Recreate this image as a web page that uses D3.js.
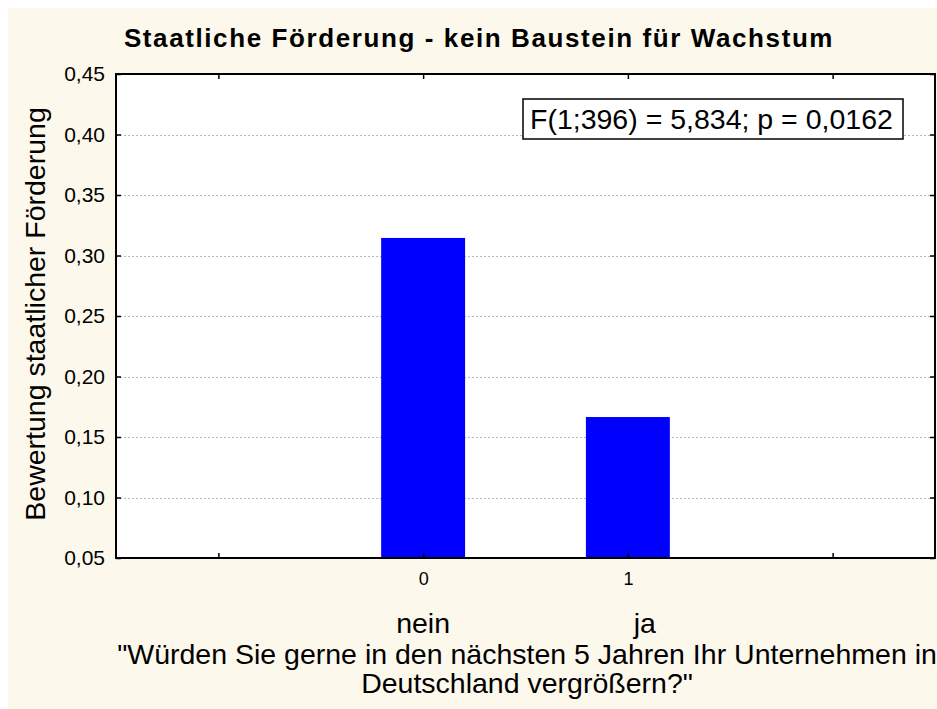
<!DOCTYPE html>
<html>
<head>
<meta charset="utf-8">
<script src="https://cdn.jsdelivr.net/npm/d3@7"></script>
<style>
  html, body { margin: 0; padding: 0; background: #ffffff; }
  svg { display: block; }
  text { font-family: "Liberation Sans", Arial, sans-serif; fill: #000; }
</style>
</head>
<body>
<svg id="chart" width="937" height="709"></svg>
<script>
// Group codes on the x axis and their answer labels
const groupCodes = [0, 1];
const groupNames = ["nein", "ja"];
// Mean rating of state funding per group
const meanRating = [0.3145, 0.1665];
// Axis ticks
const xTicks = [-1, 0, 1, 2];
const xTickLabels = ["", "0", "1", ""];
const yTicks = [0.05, 0.10, 0.15, 0.20, 0.25, 0.30, 0.35, 0.40, 0.45];
const yGridTicks = [0.10, 0.15, 0.20, 0.25, 0.30, 0.35, 0.40];

const titleText = "Staatliche Förderung - kein Baustein für Wachstum";
const yTitle = "Bewertung staatlicher Förderung";
const xTitleLines = ["\"Würden Sie gerne in den nächsten 5 Jahren Ihr Unternehmen in", "Deutschland vergrößern?\""];
const statText = "F(1;396) = 5,834; p = 0,0162";

const svg = d3.select("#chart");
const W = 937, H = 709;
const plot = { left: 116, right: 935, top: 74, bottom: 558 };

// cream page panel
svg.append("rect").attr("x", 8).attr("y", 8).attr("width", W - 8).attr("height", H - 8)
  .attr("fill", "#fdf8ec");

const x = d3.scaleLinear().domain([-1.5, 2.5]).range([plot.left, plot.right]);
const y = d3.scaleLinear().domain([0.05, 0.45]).range([plot.bottom, plot.top]);

// plot background
svg.append("rect")
  .attr("x", plot.left).attr("y", plot.top)
  .attr("width", plot.right - plot.left).attr("height", plot.bottom - plot.top)
  .attr("fill", "#ffffff");

// dashed horizontal grid
svg.append("g").selectAll("line").data(yGridTicks).join("line")
  .attr("x1", plot.left).attr("x2", plot.right)
  .attr("y1", d => Math.round(y(d)) + 0.5).attr("y2", d => Math.round(y(d)) + 0.5)
  .attr("stroke", "#b8b8b8").attr("stroke-width", 1).attr("stroke-dasharray", "2,2");

// bars
const barW = 0.41;
svg.append("g").selectAll("rect").data(groupCodes).join("rect")
  .attr("x", (d) => x(d - barW / 2))
  .attr("width", x(barW) - x(0))
  .attr("y", (d, i) => y(meanRating[i]))
  .attr("height", (d, i) => plot.bottom - y(meanRating[i]))
  .attr("fill", "#0000ff");

// axes with inward ticks
const tickLen = 5;
const fmt = d => d3.format(".2f")(d).replace(".", ",");

const leftAxis = d3.axisLeft(y).tickValues(yTicks).tickSize(-tickLen).tickPadding(11).tickFormat(fmt);
const gl = svg.append("g").attr("transform", `translate(${plot.left},0)`).call(leftAxis);
gl.selectAll("text").style("font-size", "21px");

const rightAxis = d3.axisRight(y).tickValues(yTicks).tickSize(-tickLen).tickFormat("");
svg.append("g").attr("transform", `translate(${plot.right},0)`).call(rightAxis);

const bottomAxis = d3.axisBottom(x).tickValues(xTicks).tickSize(-tickLen).tickPadding(14)
  .tickFormat((d, i) => xTickLabels[i]);
const gb = svg.append("g").attr("transform", `translate(0,${plot.bottom})`).call(bottomAxis);
gb.selectAll("text").style("font-size", "18px");

const topAxis = d3.axisTop(x).tickValues(xTicks).tickSize(-tickLen).tickFormat("");
svg.append("g").attr("transform", `translate(0,${plot.top})`).call(topAxis);

svg.selectAll(".domain").remove();
svg.selectAll(".tick line").attr("stroke", "#000").attr("stroke-width", 1.5);

// frame
svg.append("rect")
  .attr("x", plot.left).attr("y", plot.top)
  .attr("width", plot.right - plot.left).attr("height", plot.bottom - plot.top)
  .attr("fill", "none").attr("stroke", "#000").attr("stroke-width", 2);

// statistic box
const stat = svg.append("g");
stat.append("rect").attr("x", 523).attr("y", 99).attr("width", 380).attr("height", 40)
  .attr("fill", "#fff").attr("stroke", "#000").attr("stroke-width", 1.5);
stat.append("text").attr("x", 530).attr("y", 129).style("font-size", "28.5px").text(statText);

// title
svg.append("text").attr("x", 479).attr("y", 47).attr("text-anchor", "middle")
  .style("font-size", "26px").style("font-weight", "bold").style("letter-spacing", "1.6px")
  .text(titleText);

// y title
svg.append("text").attr("transform", "translate(45,314) rotate(-90)")
  .attr("text-anchor", "middle").style("font-size", "28.5px").text(yTitle);

// group names under the ticks
const nameOffset = [0, 17];
svg.append("g").selectAll("text").data(groupCodes).join("text")
  .attr("x", (d, i) => x(d) + nameOffset[i]).attr("y", 633)
  .attr("text-anchor", "middle").style("font-size", "28.5px")
  .text((d, i) => groupNames[i]);

// x title
svg.append("g").selectAll("text").data(xTitleLines).join("text")
  .attr("x", 527).attr("y", (d, i) => 664 + i * 29)
  .attr("text-anchor", "middle").style("font-size", "28.5px")
  .text(d => d);
</script>
</body>
</html>
